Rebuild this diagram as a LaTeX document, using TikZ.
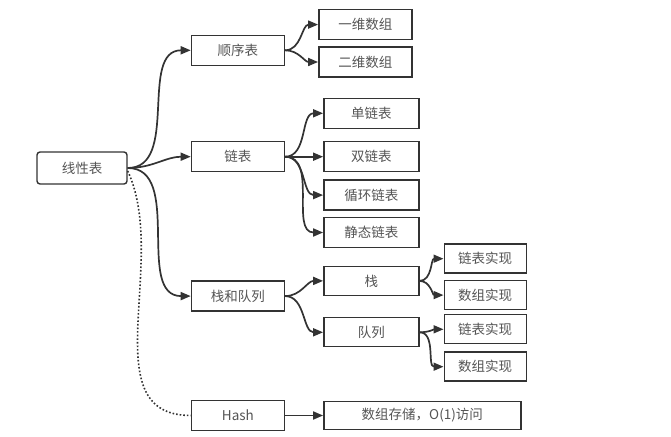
\documentclass[tikz,border=0pt]{standalone}
\usepackage{fontspec}
\newfontfamily\cjk{Noto Sans CJK SC}
\usetikzlibrary{arrows.meta, positioning}
\definecolor{linegray}{RGB}{51,51,51}
\definecolor{textgray}{RGB}{85,85,85}

\begin{document}
\begin{tikzpicture}[
    x=1pt, y=1pt,
    box/.style={rectangle, draw=linegray, line width=1.4pt, fill=white,
                minimum width=93pt, minimum height=30pt, inner sep=0pt,
                align=center, text=textgray, font=\cjk\fontsize{13.5}{15}\selectfont},
    leaf/.style={box, minimum width=95pt},
    impl/.style={box, minimum width=82pt, minimum height=29pt},
    arr/.style={-{Triangle[length=10pt,width=8pt]}, line width=1.7pt, linegray}
]
\useasboundingbox (0,0) rectangle (671,436);
% root and first level
\node[box, rounded corners=3pt, minimum width=90pt, minimum height=32pt] (root) at (82,268) {线性表};
\node[box, above right=102pt and 63pt of root.east] (seq) {顺序表};
\node[box, below=75pt of seq] (list) {链表};
\node[box, below=108pt of list] (stackq) {栈和队列};
\node[box, below=88pt of stackq] (hash) {Hash};
% second level
\node[box, above right=10pt and 33pt of seq.east] (onedim) {一维数组};
\node[box, below=6pt of onedim] (twodim) {二维数组};
\node[leaf, right=38pt of list] (dbl) {双链表};
\node[leaf, above=12pt of dbl] (single) {单链表};
\node[leaf, below=7pt of dbl] (circ) {循环链表};
\node[leaf, below=6pt of circ] (static) {静态链表};
\node[leaf, minimum height=29pt, above right=0pt and 38pt of stackq.east] (stk) {栈};
\node[leaf, minimum height=29pt, below=21pt of stk] (que) {队列};
\node[box, minimum width=197pt, minimum height=28pt, right=38pt of hash] (store) {数组存储，O(1)访问};
% third level
\node[impl, above right=7pt and 24pt of stk.east] (stklink) {链表实现};
\node[impl, below=6pt of stklink] (stkarr) {数组实现};
\node[impl, right=24pt of que, yshift=3pt] (quelink) {链表实现};
\node[impl, below=7pt of quelink] (quearr) {数组实现};

\draw[arr] (root.east) to[out=0, in=180] (seq.west);
\draw[arr] (root.east) to[out=0, in=180] (list.west);
\draw[arr] (root.east) to[out=0, in=180] (stackq.west);
\draw[linegray, line width=1.6pt, dotted] ([yshift=-3pt]root.east) to[out=-65, in=180] (hash.west);

\draw[arr] (seq.east) to[out=0, in=180] (onedim.west);
\draw[arr] (seq.east) to[out=0, in=180] (twodim.west);
\draw[arr] (list.east) to[out=0, in=180] (single.west);
\draw[arr] (list.east) -- (dbl.west);
\draw[arr] (list.east) to[out=0, in=180] (circ.west);
\draw[arr] (list.east) to[out=0, in=180] (static.west);
\draw[arr] (stackq.east) to[out=0, in=180] (stk.west);
\draw[arr] (stackq.east) to[out=0, in=180] (que.west);
\draw[arr] (hash.east) -- (store.west);

\draw[arr] (stk.east) to[out=0, in=180] (stklink.west);
\draw[arr] (stk.east) to[out=0, in=180] (stkarr.west);
\draw[arr] (que.east) to[out=0, in=180] (quelink.west);
\draw[arr] (que.east) to[out=0, in=180] (quearr.west);
\end{tikzpicture}
\end{document}
